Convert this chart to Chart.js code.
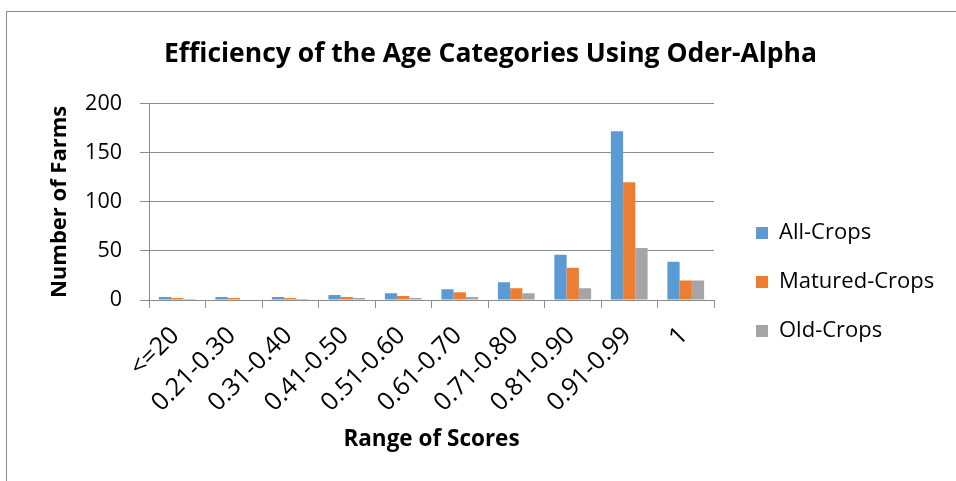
<!DOCTYPE html>
<html>
<head>
<meta charset="utf-8">
<script src="https://cdn.jsdelivr.net/npm/chart.js@4.4.1/dist/chart.umd.min.js"></script>
<style>
  body { margin: 0; background: #fff; }
  #wrap { position: relative; width: 956px; height: 481px; }
  #scoreChart { position: absolute; left: 0; top: 0; }
  #frame { position: absolute; left: 6px; top: 11px; right: 0; bottom: 0;
           border-left: 1px solid #8a8a8a; border-top: 1px solid #8a8a8a; pointer-events: none; }
</style>
</head>
<body>
<div id="wrap">
  <canvas id="scoreChart" width="956" height="481"></canvas>
  <div id="frame"></div>
</div>
<script>
const categories = ['<=20', '0.21-0.30', '0.31-0.40', '0.41-0.50', '0.51-0.60',
                    '0.61-0.70', '0.71-0.80', '0.81-0.90', '0.91-0.99', '1'];
const allCrops = [3, 3, 3, 5, 7, 11, 18, 46, 172, 39];
const maturedCrops = [2, 2, 2, 3, 4, 8, 12, 33, 120, 20];
const oldCrops = [1, 0, 1, 2, 2, 3, 7, 12, 53, 20];
const yTicks = [0, 50, 100, 150, 200];

const font = 'Open Sans';
const gridColor = '#8c8c8c';

const ctx = document.getElementById('scoreChart').getContext('2d');
new Chart(ctx, {
    type: 'bar',
    data: {
        labels: categories,
        datasets: [
            { label: 'All-Crops', data: allCrops, backgroundColor: '#5b9bd5' },
            { label: 'Matured-Crops', data: maturedCrops, backgroundColor: '#ed7d31' },
            { label: 'Old-Crops', data: oldCrops, backgroundColor: '#a5a5a5' }
        ]
    },
    options: {
        responsive: false,
        animation: false,
        layout: { padding: { left: 42, right: 17, top: 0, bottom: 0 } },
        datasets: {
            bar: { barPercentage: 1, categoryPercentage: 0.65 }
        },
        plugins: {
            title: {
                display: true,
                text: 'Efficiency of the Age Categories Using Oder-Alpha',
                color: '#000',
                font: { family: font, size: 26.5, weight: 'bold' },
                padding: { top: 39, bottom: 33 }
            },
            legend: {
                position: 'right',
                maxWidth: 210,
                title: { display: true, text: '', font: { size: 10 }, padding: { top: 71, bottom: 0 } },
                labels: {
                    boxWidth: 12,
                    boxHeight: 12,
                    padding: 27,
                    color: '#000',
                    font: { family: font, size: 22 }
                }
            },
            tooltip: { enabled: false }
        },
        scales: {
            x: {
                grid: { drawOnChartArea: false, offset: true, color: gridColor, tickLength: 8 },
                border: { color: gridColor },
                ticks: {
                    minRotation: 45,
                    maxRotation: 45,
                    padding: 13,
                    labelOffset: -2,
                    color: '#000',
                    font: { family: font, size: 25 }
                },
                title: {
                    display: true,
                    text: 'Range of Scores',
                    color: '#000',
                    font: { family: font, size: 22.5, weight: 'bold' },
                    padding: { top: 0, bottom: 28 }
                },
                afterFit: s => { s.height = 181; }
            },
            y: {
                min: 0,
                max: 200,
                afterBuildTicks: s => { s.ticks = yTicks.map(v => ({ value: v })); },
                grid: { color: gridColor, tickLength: 9 },
                border: { color: gridColor },
                ticks: {
                    padding: 18,
                    color: '#000',
                    font: { family: font, size: 21.5 }
                },
                title: {
                    display: true,
                    text: 'Number of Farms',
                    color: '#000',
                    font: { family: font, size: 22, weight: 'bold' },
                    padding: { top: 5, bottom: 0 }
                },
                afterFit: s => { s.width = 107; }
            },
            gap: {
                type: 'linear',
                position: 'right',
                grid: { display: false },
                ticks: { display: false },
                border: { display: false },
                afterFit: s => { s.width = 15; }
            }
        }
    }
});
</script>
</body>
</html>
